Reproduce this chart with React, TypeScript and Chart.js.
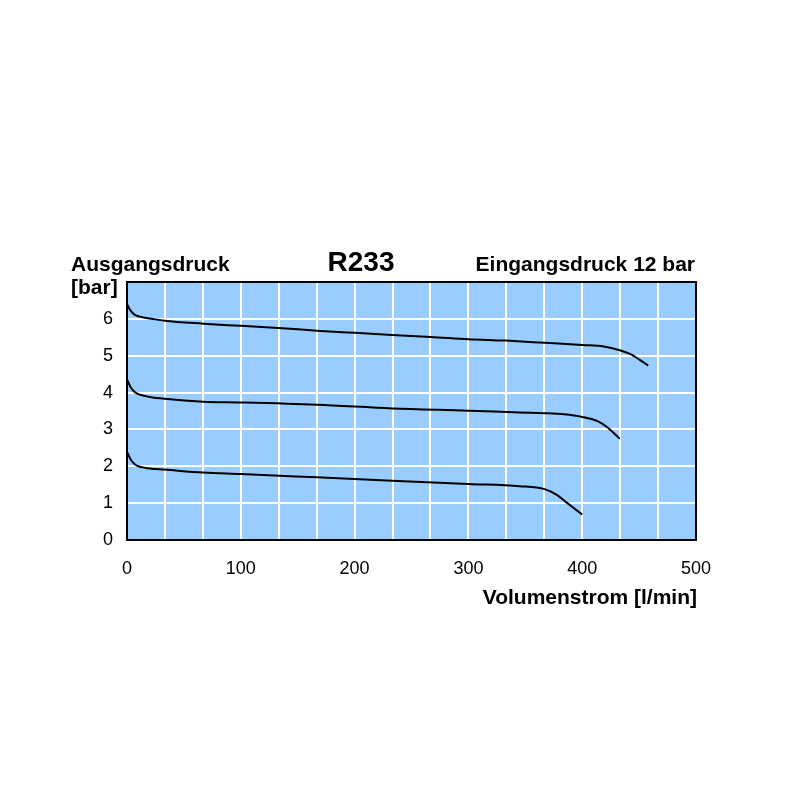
import React, { useEffect, useRef } from "react";
import { Chart, registerables } from "chart.js";

Chart.register(...registerables);

// Volumenstrom [l/min] / Ausgangsdruck [bar]
const flowTop = [0, 1, 2, 3, 5, 7, 10, 14, 20, 33, 67, 100, 133, 167, 200, 233, 267, 300, 333, 367, 400, 419, 433, 442, 451, 458];
const pressTop = [6.4, 6.34, 6.28, 6.23, 6.16, 6.11, 6.07, 6.04, 6.01, 5.95, 5.87, 5.81, 5.75, 5.68, 5.62, 5.56, 5.51, 5.45, 5.41, 5.35, 5.29, 5.25, 5.15, 5.05, 4.88, 4.73];

const flowMid = [0, 1, 2, 3, 5, 7, 10, 14, 20, 33, 67, 100, 167, 233, 300, 345, 367, 384, 400, 413, 422, 433];
const pressMid = [4.35, 4.29, 4.22, 4.16, 4.07, 4.01, 3.96, 3.92, 3.88, 3.83, 3.75, 3.73, 3.67, 3.57, 3.51, 3.46, 3.44, 3.41, 3.34, 3.23, 3.06, 2.75];

const flowBot = [0, 1, 2, 3, 5, 7, 10, 14, 20, 33, 67, 100, 167, 233, 300, 345, 367, 378, 387, 400];
const pressBot = [2.39, 2.33, 2.26, 2.2, 2.11, 2.05, 2.0, 1.97, 1.94, 1.91, 1.83, 1.79, 1.7, 1.61, 1.52, 1.46, 1.38, 1.22, 1.0, 0.69];

const title = "R233";
const yTitle1 = "Ausgangsdruck";
const yTitle2 = "[bar]";
const rightTitle = "Eingangsdruck 12 bar";
const xTitle = "Volumenstrom [l/min]";

const xMin = 0;
const xMax = 500;
const xStep = 100 / 3;
const xLabelEvery = 100;
const yMin = 0;
const yMax = 7;
const yStep = 1;

const FONT = "'Liberation Sans', Arial, sans-serif";

const toPoints = (xs: number[], ys: number[]) => xs.map((x, i) => ({ x, y: ys[i] }));

const framePlugin = {
  id: "frame",
  beforeDraw(chart: any) {
    const { ctx, chartArea: a } = chart;
    ctx.save();
    ctx.fillStyle = "#99CCFF";
    ctx.fillRect(a.left, a.top, a.right - a.left, a.bottom - a.top);
    ctx.restore();
  },
  afterDraw(chart: any) {
    const { ctx, chartArea: a } = chart;
    ctx.save();
    ctx.strokeStyle = "#000";
    ctx.lineWidth = 2;
    ctx.strokeRect(a.left, a.top, a.right - a.left, a.bottom - a.top);

    ctx.fillStyle = "#000";
    ctx.textBaseline = "alphabetic";
    ctx.font = `bold 21px ${FONT}`;
    ctx.textAlign = "left";
    ctx.fillText(yTitle1, 71, a.top - 11);
    ctx.fillText(yTitle2, 71, a.top + 12);
    ctx.textAlign = "right";
    ctx.fillText(rightTitle, a.right - 1, a.top - 11);
    ctx.fillText(xTitle, a.right + 1, a.bottom + 64);
    ctx.font = `bold 28px ${FONT}`;
    ctx.textAlign = "center";
    ctx.fillText(title, 361, a.top - 11);
    ctx.restore();
  },
};

export default function App() {
  const ref = useRef<HTMLCanvasElement | null>(null);

  useEffect(() => {
    if (!ref.current) return;
    const lineStyle = {
      borderColor: "#000",
      borderWidth: 2,
      pointRadius: 0,
      fill: false,
      cubicInterpolationMode: "monotone" as const,
    };
    const chart = new Chart(ref.current, {
      type: "line",
      data: {
        datasets: [
          { label: "top", data: toPoints(flowTop, pressTop), ...lineStyle },
          { label: "mid", data: toPoints(flowMid, pressMid), ...lineStyle },
          { label: "bot", data: toPoints(flowBot, pressBot), ...lineStyle },
        ],
      },
      options: {
        animation: false,
        responsive: false,
        events: [],
        layout: { padding: { top: 282, right: 104, bottom: 0, left: 0 } },
        plugins: { legend: { display: false }, tooltip: { enabled: false }, title: { display: false } },
        scales: {
          x: {
            type: "linear",
            min: xMin,
            max: xMax,
            grid: { color: "#fff", lineWidth: 2, drawTicks: false },
            border: { display: false },
            ticks: {
              stepSize: xStep,
              maxTicksLimit: 30,
              autoSkip: false,
              maxRotation: 0,
              padding: 18,
              color: "#000",
              font: { family: FONT, size: 18 },
              callback: (v: any) => {
                const n = Number(v);
                const r = Math.round(n / xLabelEvery);
                return Math.abs(n / xLabelEvery - r) < 1e-6 ? String(r * xLabelEvery) : "";
              },
            },
            afterFit: (s: any) => {
              s.height = 260;
            },
          },
          y: {
            type: "linear",
            min: yMin,
            max: yMax,
            grid: { color: "#fff", lineWidth: 2, drawTicks: false },
            border: { display: false },
            ticks: {
              stepSize: yStep,
              padding: 14,
              color: "#000",
              font: { family: FONT, size: 18 },
              callback: (v: any) => (Number(v) >= yMax ? "" : String(v)),
            },
            afterFit: (s: any) => {
              s.width = 127;
            },
          },
        },
      },
      plugins: [framePlugin],
    });
    return () => chart.destroy();
  }, []);

  return (
    <div style={{ position: "absolute", left: 0, top: 0, width: 800, height: 800, background: "#fff" }}>
      <canvas ref={ref} width={800} height={800} style={{ width: 800, height: 800 }} />
    </div>
  );
}
